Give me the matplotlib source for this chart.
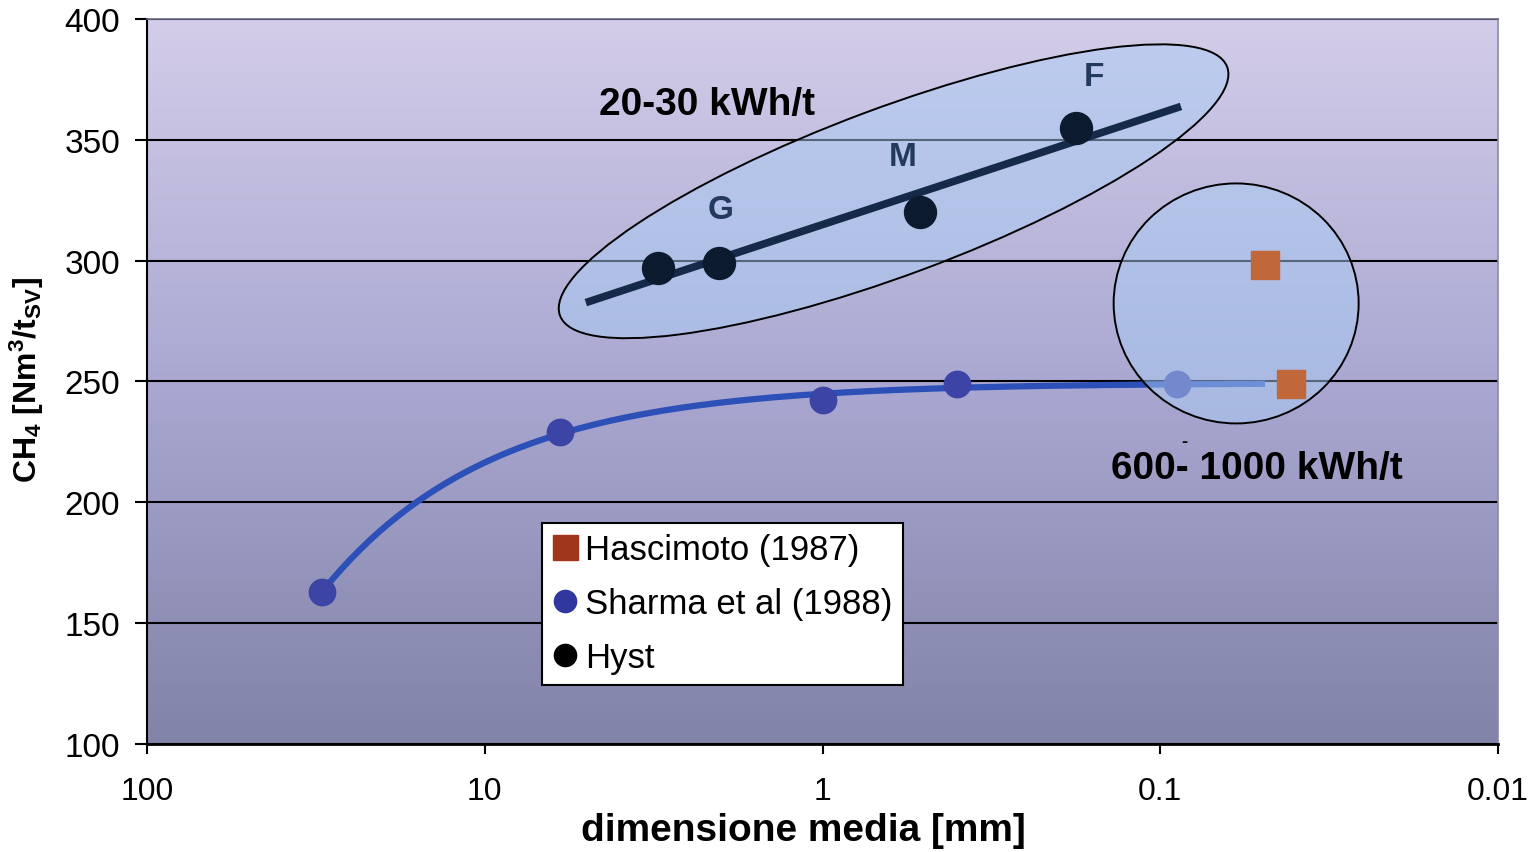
import numpy as np
import matplotlib
matplotlib.use("Agg")
import matplotlib.pyplot as plt
import matplotlib.transforms as mtransforms
from matplotlib.patches import Ellipse
from matplotlib.lines import Line2D
from matplotlib.colors import LinearSegmentedColormap

plt.rcParams['font.family'] = ['Liberation Sans', 'DejaVu Sans']
plt.rcParams['mathtext.fontset'] = 'custom'
plt.rcParams['mathtext.rm'] = 'Liberation Sans'
plt.rcParams['mathtext.bf'] = 'Liberation Sans:bold'
plt.rcParams['mathtext.default'] = 'bf'

# data
hasci_x = [0.049, 0.041]
hasci_y = [298, 249]
sharma_x = [30.3, 6.0, 1.0, 0.40, 0.089]
sharma_y = [163, 229, 242.5, 249, 249]
hyst_x = [3.08, 2.03, 0.513, 0.177]
hyst_y = [297, 299, 320, 355]
hyst_labels = ['G', 'M', 'F']
hyst_label_x = [2.0, 0.579, 0.157]
hyst_label_y = [321, 343, 376]
hyst_trend_range = [4.9, 0.089]
sharma_trend_range = [30.3, 0.05]

fig = plt.figure(figsize=(15.4, 8.53), dpi=100)
ax = fig.add_axes([0.0955, 0.1266, 0.8772, 0.85])
ax.set_xscale('log')
ax.set_xlim(100, 0.01)
ax.set_ylim(100, 400)

# gradient background
cmap = LinearSegmentedColormap.from_list('bg', ['#8283a8', '#aaa8d2', '#d3cde9'])
grad = np.linspace(0, 1, 256).reshape(-1, 1)
ax.imshow(grad, cmap=cmap, extent=[0, 1, 0, 1], transform=ax.transAxes,
          aspect='auto', origin='lower', zorder=0)

ax.set_yticks([100, 150, 200, 250, 300, 350, 400])
ax.set_xticks([100, 10, 1, 0.1, 0.01])
ax.set_xticklabels(['100', '10', '1', '0.1', '0.01'])
ax.xaxis.set_minor_locator(matplotlib.ticker.NullLocator())
ax.yaxis.grid(True, color='black', linewidth=1.5, zorder=1)
ax.set_axisbelow(True)
ax.tick_params(axis='y', labelsize=24, length=8.5, width=1.5, pad=11)
ax.tick_params(axis='x', labelsize=23, length=7, width=1.5, pad=16)
ax.spines['left'].set_linewidth(1.5)
ax.spines['bottom'].set_linewidth(2)
ax.spines['top'].set_color('#6a6a8a')
ax.spines['right'].set_color('#8a8aa8')
ax.spines['top'].set_linewidth(1.2)
ax.spines['right'].set_linewidth(1.2)

# Sharma trend: fit y = A - B*x^p
sx = np.array(sharma_x)
sy = np.array(sharma_y)
best = None
for p in np.linspace(0.2, 1.5, 131):
    M = np.column_stack([np.ones_like(sx), -sx ** p])
    coef, res, _, _ = np.linalg.lstsq(M, sy, rcond=None)
    err = np.sum((M @ coef - sy) ** 2)
    if best is None or err < best[0]:
        best = (err, p, coef)
_, p, (A, B) = best
tx = np.logspace(np.log10(sharma_trend_range[0]), np.log10(sharma_trend_range[1]), 200)
ax.plot(tx, A - B * tx ** p, color='#2c4fb8', linewidth=4.5, zorder=3)
ax.plot(sharma_x, sharma_y, 'o', color='#3c44a6', markersize=19, zorder=4)

# Hyst trend: linear in log x
k, c = np.polyfit(np.log10(hyst_x), hyst_y, 1)
hx = np.logspace(np.log10(hyst_trend_range[0]), np.log10(hyst_trend_range[1]), 50)
ax.plot(hx, k * np.log10(hx) + c, color='#142a48', linewidth=5.5, zorder=7)
ax.plot(hyst_x, hyst_y, 'o', color='#0c1a2e', markersize=23, zorder=8)

ax.plot(hasci_x, hasci_y, 's', color='#c0683a', markersize=20, zorder=6)

# ellipses drawn in inches around a data point
def ring(x, y, w, h, ang, z):
    tr = fig.dpi_scale_trans + mtransforms.ScaledTranslation(x, y, ax.transData)
    e = Ellipse((0, 0), w, h, angle=ang, transform=tr, facecolor='#aacdf5',
                alpha=0.5, edgecolor='none', zorder=z)
    ax.add_patch(e)
    e2 = Ellipse((0, 0), w, h, angle=ang, transform=tr, facecolor='none',
                 edgecolor='black', linewidth=1.4, zorder=z)
    ax.add_patch(e2)

ring(0.616, 328.7, 7.12, 1.67, 20.45, 5)
ring(0.0596, 282.3, 2.45, 2.40, 0, 5)

for lab, lx, ly in zip(hyst_labels, hyst_label_x, hyst_label_y):
    ax.text(lx, ly, lab, fontsize=24, fontweight='bold', color='#23395d',
            ha='center', va='center', zorder=9)
ax.text(2.19, 364.8, '20-30 kWh/t', fontsize=28, fontweight='bold',
        ha='center', va='center', zorder=9)
ax.text(0.0518, 214.4, '600- 1000 kWh/t', fontsize=28, fontweight='bold',
        ha='center', va='center', zorder=9)
ax.text(0.0846, 225.0, '-', fontsize=13, fontweight='bold',
        ha='center', va='center', zorder=9)

ax.set_xlabel('dimensione media [mm]', fontsize=28, fontweight='bold')
ax.xaxis.set_label_coords(0.4856, -0.094)
ax.set_ylabel(r'CH$_4$ [Nm$^3$/t$_{SV}$]', fontsize=23, fontweight='bold')
ax.yaxis.set_label_coords(-0.0745, 0.503)

handles = [
    Line2D([], [], marker='s', linestyle='none', color='#a0361c', markersize=18),
    Line2D([], [], marker='o', linestyle='none', color='#3038a0', markersize=16),
    Line2D([], [], marker='o', linestyle='none', color='black', markersize=16),
]
leg = ax.legend(handles, ['Hascimoto (1987)', 'Sharma et al (1988)', 'Hyst'],
                loc='upper left', bbox_to_anchor=(0.2924, 0.3048), borderaxespad=0,
                fontsize=25, fancybox=False, framealpha=1, edgecolor='black',
                handlelength=0.7, handletextpad=0.25, labelspacing=0.6,
                borderpad=0.3)
leg.get_frame().set_linewidth(1.5)
leg.set_zorder(10)

fig.savefig('out.png', dpi=100)
